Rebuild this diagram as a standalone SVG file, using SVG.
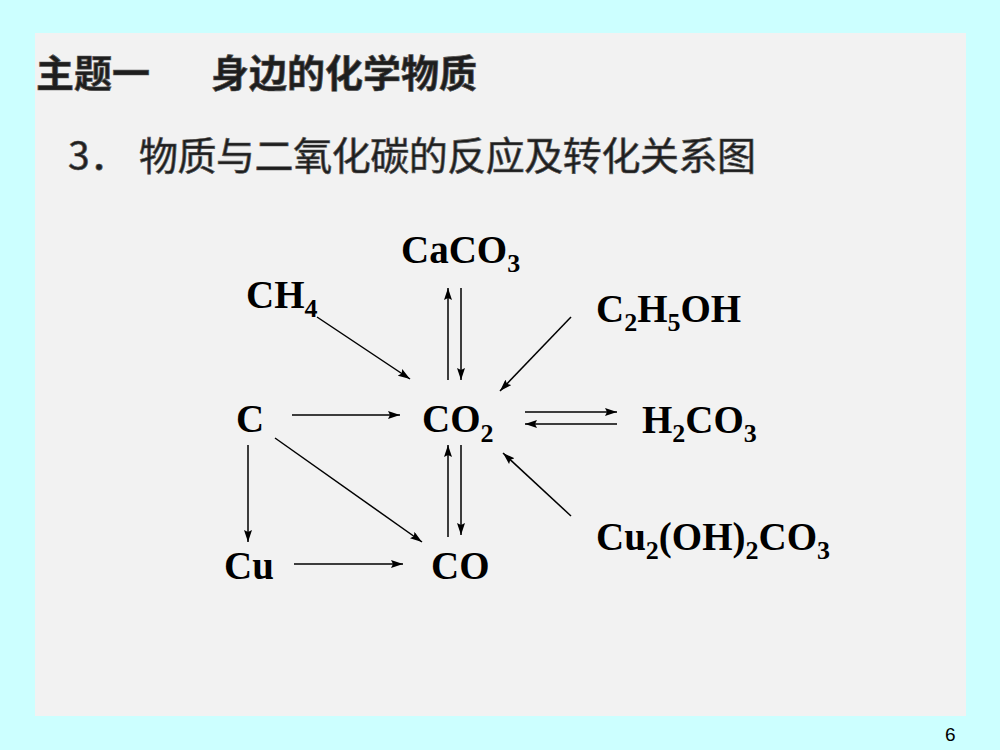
<svg xmlns="http://www.w3.org/2000/svg" width="1000" height="750" viewBox="0 0 1000 750">
<style>
.cjk{font-family:"Noto Sans CJK SC","Noto Sans",sans-serif;fill:#1e1e1e;stroke:#555;stroke-width:0.7}
.chem{font-family:"Liberation Serif","Times New Roman",serif;font-weight:bold;font-size:39px;fill:#000}
.sub{font-size:26px}
.arr{stroke:#000;stroke-width:1.5;fill:none;marker-end:url(#ah)}
</style>
<defs>
<marker id="ah" viewBox="0 0 12 8" refX="12" refY="4" markerWidth="12" markerHeight="8" orient="auto" markerUnits="userSpaceOnUse">
<path d="M0,0 L12,4 L0,8 L2,4 z" fill="#000"/>
</marker>
</defs>
<rect x="0" y="0" width="1000" height="750" fill="#ccffff"/>
<rect x="35" y="33" width="931" height="683" fill="#f2f2f2"/>

<g id="title">
<text class="cjk" y="87" font-size="38" font-weight="bold"><tspan x="36">主题一</tspan><tspan x="211">身边的化学物质</tspan></text>
<text class="cjk" x="68" y="170" font-size="39">3．</text>
<text class="cjk" x="139" y="170" font-size="39" textLength="617" lengthAdjust="spacing">物质与二氧化碳的反应及转化关系图</text>
</g>

<g id="CaCO3"><text class="chem" x="401" y="263">CaCO<tspan class="sub" dy="9">3</tspan></text></g>
<g id="CH4"><text class="chem" x="246" y="308">CH<tspan class="sub" dy="9">4</tspan></text></g>
<g id="C2H5OH"><text class="chem" x="596" y="322">C<tspan class="sub" dy="9">2</tspan><tspan dy="-9">H</tspan><tspan class="sub" dy="9">5</tspan><tspan dy="-9">OH</tspan></text></g>
<g id="C"><text class="chem" x="236" y="432">C</text></g>
<g id="CO2"><text class="chem" x="422" y="432" font-size="48">CO<tspan class="sub" dy="10" font-size="28">2</tspan></text></g>
<g id="H2CO3"><text class="chem" x="642" y="433">H<tspan class="sub" dy="9">2</tspan><tspan dy="-9">CO</tspan><tspan class="sub" dy="9">3</tspan></text></g>
<g id="Cu2OH2CO3"><text class="chem" x="596" y="550">Cu<tspan class="sub" dy="9">2</tspan><tspan dy="-9">(OH)</tspan><tspan class="sub" dy="9">2</tspan><tspan dy="-9">CO</tspan><tspan class="sub" dy="9">3</tspan></text></g>
<g id="Cu"><text class="chem" x="224" y="579">Cu</text></g>
<g id="CO"><text class="chem" x="431" y="579">CO</text></g>

<g id="connectors">
<line class="arr" x1="317" y1="317" x2="410" y2="379"/>
<line class="arr" x1="448" y1="380" x2="448" y2="288"/>
<line class="arr" x1="461" y1="288" x2="461" y2="380"/>
<line class="arr" x1="292" y1="415" x2="400" y2="415"/>
<line class="arr" x1="571" y1="317" x2="500" y2="391"/>
<line class="arr" x1="525" y1="412" x2="617" y2="412"/>
<line class="arr" x1="617" y1="424" x2="525" y2="424"/>
<line class="arr" x1="571" y1="516" x2="503" y2="453"/>
<line class="arr" x1="248" y1="445" x2="248" y2="542"/>
<line class="arr" x1="275" y1="438" x2="422" y2="542"/>
<line class="arr" x1="294" y1="564" x2="403" y2="564"/>
<line class="arr" x1="448" y1="537" x2="448" y2="445"/>
<line class="arr" x1="461" y1="445" x2="461" y2="535"/>
</g>

<g id="page"><text x="945" y="741" font-family="Liberation Sans, Arial, sans-serif" font-size="19" fill="#000">6</text></g>
</svg>
